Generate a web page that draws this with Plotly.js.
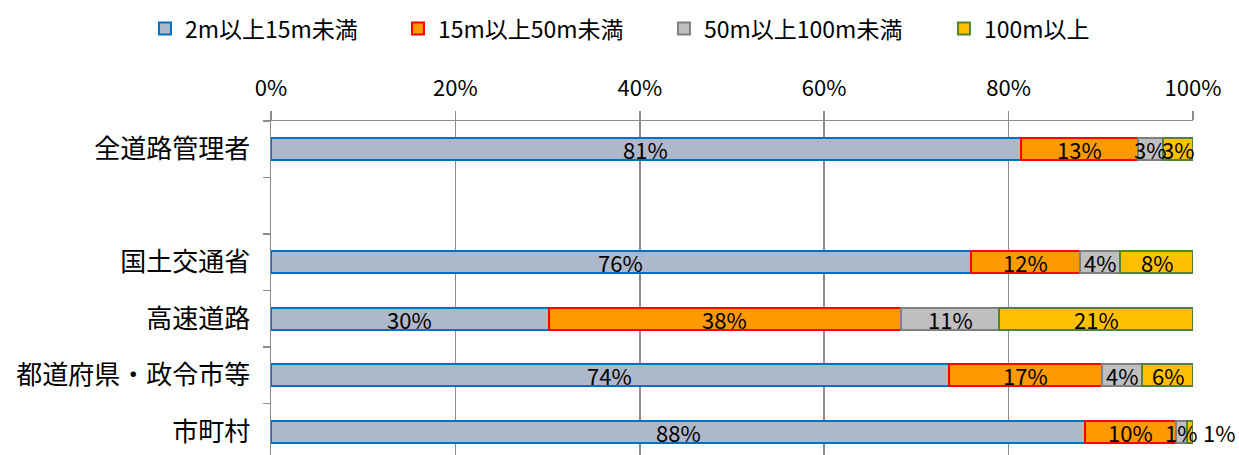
<!DOCTYPE html>
<html>
<head>
<meta charset="utf-8">
<script src="https://cdn.plot.ly/plotly-3.0.1.min.js"></script>
<style>
html,body{margin:0;padding:0;overflow:hidden;background:#fff;}
#chart{width:1239px;height:465px;}
</style>
</head>
<body>
<div id="chart"></div>
<script>
// Categories (blank slot between the first group and the rest)
const categories = ['全道路管理者', '\u3000', '国土交通省', '高速道路', '都道府県・政令市等', '市町村'];
const seriesNames = ['2m以上15m未満', '15m以上50m未満', '50m以上100m未満', '100m以上'];
// Shares in percent
const s2to15 = [81.3, null, 75.9, 30.1, 73.5, 88.3];
const s15to50 = [12.7, null, 11.8, 38.2, 16.6, 9.9];
const s50to100 = [2.7, null, 4.4, 10.7, 4.4, 1.1];
const s100plus = [3.3, null, 7.9, 21.0, 5.5, 0.7];

const FONT = '"Noto Sans CJK JP", "Noto Sans", sans-serif';
const fills = ['#ADB9CA', '#FF9900', '#BFBFBF', '#FFC000'];
const borders = ['#0070C0', '#FF0000', '#808080', '#548235'];
const legendWidths = [208, 221, 235, 120];
const allSeries = [s2to15, s15to50, s50to100, s100plus];

const traces = allSeries.map((vals, i) => ({
  type: 'bar',
  orientation: 'h',
  name: seriesNames[i],
  y: categories,
  x: vals,
  marker: {color: fills[i], line: {color: borders[i], width: 2}},
  legendwidth: legendWidths[i],
  hoverinfo: 'skip'
}));

// data labels: placed at the middle of each stacked segment
const annotations = [];
categories.forEach((cat, j) => {
  let start = 0;
  allSeries.forEach((vals, i) => {
    const v = vals[j];
    if (v == null) return;
    const end = start + v;
    const isLastTiny = (i === allSeries.length - 1 && j === categories.length - 1);
    annotations.push({
      xref: 'x', yref: 'y',
      x: isLastTiny ? end : start + v / 2,
      y: cat,
      xanchor: isLastTiny ? 'left' : 'center',
      xshift: isLastTiny ? 8 : 0,
      yanchor: 'middle',
      text: Math.round(v) + '%',
      showarrow: false,
      font: {family: FONT, size: 22, color: '#000'}
    });
    start = end;
  });
});

const layout = {
  width: 1239,
  height: 465,
  margin: {l: 271, r: 46, t: 121, b: 5},
  paper_bgcolor: '#fff',
  plot_bgcolor: '#fff',
  barmode: 'stack',
  bargap: 0.61,
  font: {family: FONT, color: '#000'},
  showlegend: true,
  legend: {
    orientation: 'h',
    x: -0.1367,
    xanchor: 'left',
    y: 1.336,
    yanchor: 'top',
    font: {family: FONT, size: 23, color: '#000'},
    traceorder: 'normal'
  },
  annotations: annotations,
  xaxis: {
    side: 'top',
    range: [0, 100],
    dtick: 20,
    ticksuffix: '%',
    showgrid: true,
    gridcolor: '#8C8C8C',
    gridwidth: 1.5,
    showline: true,
    linecolor: '#8C8C8C',
    linewidth: 1.5,
    ticks: 'outside',
    ticklen: 9,
    tickwidth: 1.5,
    tickcolor: '#8C8C8C',
    ticklabelstandoff: 6,
    zeroline: false,
    fixedrange: true,
    tickfont: {family: FONT, size: 22, color: '#000'}
  },
  yaxis: {
    type: 'category',
    categoryorder: 'array',
    categoryarray: categories,
    autorange: 'reversed',
    showgrid: false,
    showline: true,
    linecolor: '#8C8C8C',
    linewidth: 1.5,
    ticks: 'outside',
    tickson: 'boundaries',
    ticklen: 7,
    tickwidth: 1.5,
    tickcolor: '#8C8C8C',
    ticklabelstandoff: 14,
    zeroline: false,
    fixedrange: true,
    tickfont: {family: FONT, size: 26, color: '#000'}
  }
};

Plotly.newPlot('chart', traces, layout, {displayModeBar: false, staticPlot: true});
</script>
</body>
</html>
